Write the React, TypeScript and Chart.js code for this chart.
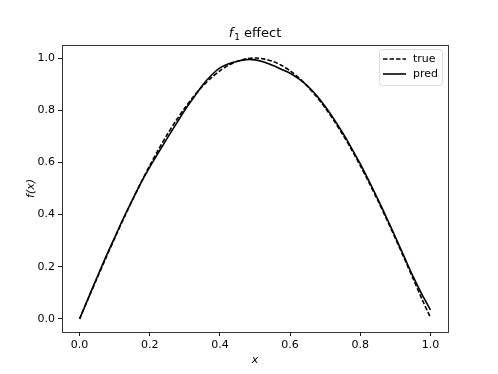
import React, { useEffect, useRef } from "react";
import { Chart, registerables } from "chart.js";

Chart.register(...registerables);

const xs = [
  0, 0.025, 0.05, 0.075, 0.1, 0.125, 0.15, 0.175, 0.2, 0.225, 0.25, 0.275, 0.3, 0.325, 0.35, 0.375, 0.4,
  0.425, 0.45, 0.475, 0.5, 0.525, 0.55, 0.575, 0.6, 0.625, 0.65, 0.675, 0.7, 0.725, 0.75, 0.775, 0.8,
  0.825, 0.85, 0.875, 0.9, 0.925, 0.95, 0.975, 1.0,
];
const trueVals = [
  0, 0.0785, 0.1564, 0.2334, 0.309, 0.3827, 0.454, 0.5225, 0.5878, 0.6494, 0.7071, 0.7604, 0.809, 0.8526,
  0.891, 0.9239, 0.9511, 0.9724, 0.9877, 0.9969, 1.0, 0.9969, 0.9877, 0.9724, 0.9511, 0.9239, 0.891,
  0.8526, 0.809, 0.7604, 0.7071, 0.6494, 0.5878, 0.5225, 0.454, 0.3827, 0.309, 0.2334, 0.1564, 0.0785, 0.005,
];
const predVals = [
  0.0, 0.08, 0.16, 0.238, 0.312, 0.386, 0.455, 0.522, 0.582, 0.638, 0.693, 0.747, 0.8, 0.848, 0.895, 0.933,
  0.962, 0.978, 0.988, 0.994, 0.993, 0.985, 0.972, 0.957, 0.942, 0.92, 0.893, 0.857, 0.814, 0.766, 0.713,
  0.655, 0.594, 0.528, 0.459, 0.388, 0.314, 0.239, 0.164, 0.096, 0.035,
];
const xTicks = [0.0, 0.2, 0.4, 0.6, 0.8, 1.0];
const yTicks = [0.0, 0.2, 0.4, 0.6, 0.8, 1.0];
const seriesNames = ["true", "pred"];
const titleMain = "f";
const titleSub = "1";
const titleRest = " effect";
const xLabel = "x";
const yLabel = "f(x)";

const FONT = "'DejaVu Sans', sans-serif";

const decorPlugin = {
  id: "decor",
  afterDatasetsDraw(chart: any) {
    const { ctx, chartArea } = chart;
    const { left, right, top, bottom } = chartArea;
    ctx.save();
    ctx.strokeStyle = "#222";
    ctx.lineWidth = 0.9;
    ctx.strokeRect(Math.round(left) + 0.5, Math.round(top) + 0.5, Math.round(right - left), Math.round(bottom - top));

    const cx = (left + right) / 2;
    ctx.fillStyle = "#000";
    ctx.textBaseline = "alphabetic";
    ctx.font = `oblique 13px ${FONT}`;
    const wMain = ctx.measureText(titleMain).width;
    ctx.font = `9px ${FONT}`;
    const wSub = ctx.measureText(titleSub).width;
    ctx.font = `13px ${FONT}`;
    const wRest = ctx.measureText(titleRest).width;
    const total = wMain + wSub + 1 + wRest;
    let tx = cx - total / 2;
    const ty = 37;
    ctx.textAlign = "left";
    ctx.font = `oblique 13px ${FONT}`;
    ctx.fillText(titleMain, tx, ty);
    tx += wMain + 1;
    ctx.font = `9px ${FONT}`;
    ctx.fillText(titleSub, tx, ty + 2.5);
    tx += wSub;
    ctx.font = `13px ${FONT}`;
    ctx.fillText(titleRest, tx, ty);

    ctx.font = `oblique 11px ${FONT}`;
    ctx.textAlign = "center";
    ctx.textBaseline = "middle";
    ctx.fillText(xLabel, cx, 360);
    ctx.save();
    ctx.translate(31, (top + bottom) / 2);
    ctx.rotate(-Math.PI / 2);
    ctx.fillText(yLabel, 0, 0);
    ctx.restore();

    const bx = 379.5, by = 49.5, bw = 63, bh = 36, r = 3;
    ctx.beginPath();
    ctx.moveTo(bx + r, by);
    ctx.lineTo(bx + bw - r, by);
    ctx.quadraticCurveTo(bx + bw, by, bx + bw, by + r);
    ctx.lineTo(bx + bw, by + bh - r);
    ctx.quadraticCurveTo(bx + bw, by + bh, bx + bw - r, by + bh);
    ctx.lineTo(bx + r, by + bh);
    ctx.quadraticCurveTo(bx, by + bh, bx, by + bh - r);
    ctx.lineTo(bx, by + r);
    ctx.quadraticCurveTo(bx, by, bx + r, by);
    ctx.closePath();
    ctx.fillStyle = "rgba(255,255,255,0.8)";
    ctx.fill();
    ctx.strokeStyle = "#d0d0d0";
    ctx.lineWidth = 0.8;
    ctx.stroke();

    const rows = [59, 74];
    ctx.font = `11px ${FONT}`;
    ctx.textAlign = "left";
    ctx.textBaseline = "middle";
    rows.forEach((ry, i) => {
      ctx.beginPath();
      ctx.strokeStyle = "#000";
      ctx.lineWidth = 1.6;
      ctx.setLineDash(i === 0 ? [4.5, 2] : []);
      ctx.moveTo(383, ry);
      ctx.lineTo(406, ry);
      ctx.stroke();
      ctx.setLineDash([]);
      ctx.fillStyle = "#000";
      ctx.fillText(seriesNames[i], 413, ry);
    });
    ctx.restore();
  },
};

export default function App() {
  const ref = useRef<HTMLCanvasElement>(null);
  useEffect(() => {
    document.body.style.margin = "0";
    const canvas = ref.current!;
    const chart = new Chart(canvas, {
      type: "scatter",
      data: {
        datasets: [
          {
            label: seriesNames[0],
            data: xs.map((x, i) => ({ x, y: trueVals[i] })),
            showLine: true,
            borderColor: "#000",
            borderWidth: 1.6,
            borderDash: [4.5, 2],
            pointRadius: 0,
            tension: 0.3,
            order: 1,
          },
          {
            label: seriesNames[1],
            data: xs.map((x, i) => ({ x, y: predVals[i] })),
            showLine: true,
            borderColor: "#000",
            borderWidth: 1.6,
            pointRadius: 0,
            tension: 0.3,
            order: 0,
          },
        ],
      },
      options: {
        animation: false,
        responsive: false,
        devicePixelRatio: 1,
        layout: { padding: { left: 0, right: 50, top: 45, bottom: 0 } },
        plugins: { legend: { display: false }, tooltip: { enabled: false }, title: { display: false } },
        scales: {
          x: {
            type: "linear",
            min: -0.05,
            max: 1.05,
            afterBuildTicks: (s: any) => {
              s.ticks = xTicks.map((v) => ({ value: v }));
            },
            afterFit: (s: any) => {
              s.height = 42;
            },
            border: { display: false },
            grid: { drawOnChartArea: false, drawTicks: true, tickLength: 4, color: "#000", lineWidth: 0.9 },
            ticks: {
              color: "#000",
              padding: 3,
              maxRotation: 0,
              font: { family: FONT, size: 11 },
              callback: (v: any) => Number(v).toFixed(1),
            },
          },
          y: {
            type: "linear",
            min: -0.05,
            max: 1.05,
            afterBuildTicks: (s: any) => {
              s.ticks = yTicks.map((v) => ({ value: v }));
            },
            afterFit: (s: any) => {
              s.width = 62;
            },
            border: { display: false },
            grid: { drawOnChartArea: false, drawTicks: true, tickLength: 4, color: "#000", lineWidth: 0.9 },
            ticks: {
              color: "#000",
              padding: 3,
              font: { family: FONT, size: 11 },
              callback: (v: any) => Number(v).toFixed(1),
            },
          },
        },
      },
      plugins: [decorPlugin],
    });
    return () => chart.destroy();
  }, []);
  return (
    <div style={{ width: 498, height: 374, background: "#fff" }}>
      <canvas ref={ref} width={498} height={374} style={{ display: "block" }} />
    </div>
  );
}
